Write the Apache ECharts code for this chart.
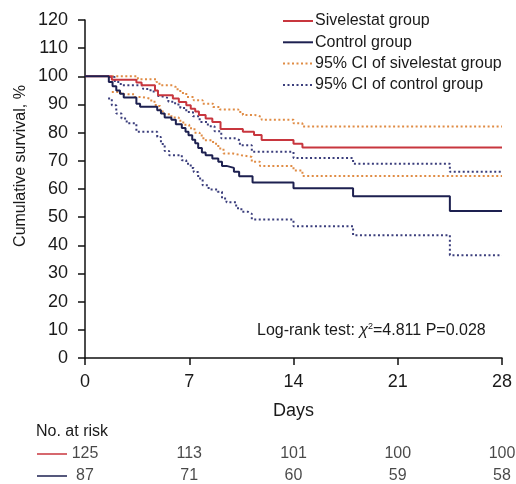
<!DOCTYPE html>
<html>
<head>
<meta charset="utf-8">
<script src="https://cdn.jsdelivr.net/npm/echarts@6/dist/echarts.min.js"></script>
<style>
  html, body { margin: 0; padding: 0; background: #fff; }
  #chart { width: 516px; height: 484px; }
</style>
</head>
<body>
<div id="chart"></div>
<script>
// Kaplan-Meier steps: [day, survival %] (value holds from that day on)
const sivelestat = [[0,100],[1.8,98.8],[3.45,97.8],[3.8,96.8],[4.7,95.0],[4.9,93.3],[5.9,92.1],[6.3,90.9],[6.8,89.7],[7.1,88.5],[7.4,87.5],[7.65,86.3],[8.1,85.0],[8.55,83.8],[9.1,81.3],[10.6,80.3],[11.35,79.2],[11.86,77.4],[14.0,76.1],[14.6,74.7],[28,74.7]];
const control = [[0,100],[1.6,98.0],[1.85,96.5],[2.1,95.0],[2.35,93.8],[2.6,92.5],[3.45,90.3],[3.7,89.2],[4.85,88.0],[5.1,86.8],[5.35,85.4],[5.8,84.6],[6.1,83.0],[6.5,81.7],[6.75,80.3],[6.95,79.1],[7.2,77.5],[7.4,76.2],[7.6,74.6],[7.85,73.0],[8.1,72.0],[8.55,70.8],[8.95,69.7],[9.2,68.2],[9.5,67.5],[10.0,66.1],[10.35,64.5],[11.25,62.3],[14.0,60.3],[18.0,57.4],[24.5,52.2],[28,52.2]];
const sivUpper = [[1.8,100],[3.55,99.0],[4.8,98.0],[5.0,96.8],[5.9,96.2],[6.1,95.4],[6.4,94.1],[6.8,92.7],[7.3,91.5],[7.9,90.3],[8.6,89.1],[9.05,88.2],[10.3,87.3],[10.6,86.3],[11.4,85.6],[11.86,84.6],[14.0,83.3],[14.6,82.2],[28,82.2]];
const sivLower = [[1.8,94.4],[2.4,93.6],[3.3,92.7],[3.8,92.0],[4.45,91.0],[4.75,89.5],[5.05,87.5],[5.3,86.5],[5.8,85.4],[6.3,84.2],[6.6,82.8],[7.0,81.6],[7.35,80.0],[7.7,79.0],[7.95,77.3],[8.6,76.1],[8.95,74.4],[9.3,72.6],[9.95,72.0],[10.5,71.4],[11.2,69.7],[11.75,68.2],[14.0,66.6],[14.6,64.6],[28,64.6]];
const ctlUpper = [[1.6,99.8],[2.0,98.0],[2.4,96.8],[3.9,95.5],[4.4,94.6],[4.9,93.0],[5.1,92.3],[5.6,91.0],[6.05,90.0],[6.4,88.8],[6.8,87.3],[7.25,85.8],[7.7,83.8],[8.25,82.3],[8.7,80.5],[9.15,78.0],[10.05,77.3],[10.4,75.5],[11.2,73.2],[14.0,71.0],[18.0,69.0],[24.5,66.1],[28,66.1]];
const ctlLower = [[1.55,92.1],[1.8,89.7],[2.1,86.8],[2.45,85.0],[2.8,83.3],[3.45,80.3],[4.85,78.5],[5.1,76.0],[5.35,73.5],[5.65,72.0],[6.5,70.2],[6.8,69.0],[7.1,67.5],[7.3,66.0],[7.6,63.7],[7.9,61.3],[8.3,59.8],[8.9,59.0],[9.2,56.6],[9.5,55.3],[10.15,53.2],[10.5,51.9],[10.95,51.2],[11.2,49.2],[14.0,46.8],[18.0,43.6],[24.5,36.5],[28,36.5]];

const riskDays = [0, 7, 14, 21, 28];
const riskSivelestat = [125, 113, 101, 100, 100];
const riskControl = [87, 71, 60, 59, 58];

const font = 'Liberation Sans, Arial, Helvetica, sans-serif';
const colRed = '#c8363e';
const colNavy = '#1d2050';
const colOrange = '#e08c45';
const colNavyDot = '#3b3e7c';
const txt = '#1a1a1a';

const chart = echarts.init(document.getElementById('chart'));

const stepLine = (name, data, color, dotted) => ({
    name: name,
    type: 'line',
    step: 'end',
    data: data,
    symbol: 'none',
    xAxisIndex: 0, yAxisIndex: 0,
    lineStyle: { color: color, width: 2, type: dotted ? [2, 2.5] : 'solid' },
    itemStyle: { color: color },
    animation: false,
    z: dotted ? 2 : 3
});

// risk table rows sit in their own thin grids, sharing the day scale
const riskRow = (idx, values) => ({
    type: 'scatter',
    xAxisIndex: idx, yAxisIndex: idx,
    data: riskDays.map((d, i) => [d, 0, values[i]]),
    symbolSize: 0,
    silent: true,
    animation: false,
    label: {
        show: true, position: 'inside', formatter: p => p.data[2],
        color: txt, fontSize: 16, fontFamily: font
    }
});

const hiddenAxis = (gi, type) => ({
    gridIndex: gi, type: 'value', min: type === 'x' ? 0 : -1, max: type === 'x' ? 28 : 1,
    show: false
});

chart.setOption({
    backgroundColor: '#fff',
    textStyle: { fontFamily: font },
    grid: [
        { left: 85, right: 14, top: 20, bottom: 126 },
        { left: 85, right: 14, top: 447, height: 14 },
        { left: 85, right: 14, top: 469, height: 14 }
    ],
    legend: {
        left: 282, top: 13, orient: 'vertical', padding: 0,
        itemWidth: 30, itemHeight: 14, itemGap: 5.3,
        itemStyle: { opacity: 0 },
        textStyle: { fontSize: 16, color: txt, fontFamily: font, padding: [0, 0, 0, -3] },
        data: ['Sivelestat group', 'Control group', '95% CI of sivelestat group', '95% CI of control group']
    },
    xAxis: [
        {
            gridIndex: 0, type: 'value', min: 0, max: 28, interval: 7,
            name: 'Days', nameLocation: 'middle', nameGap: 44,
            nameTextStyle: { fontSize: 18, color: txt, fontFamily: font },
            axisLine: { lineStyle: { color: '#111', width: 1.5 } },
            axisTick: { show: true, inside: false, length: 7, lineStyle: { color: '#111', width: 1.5 } },
            axisLabel: { fontSize: 18, color: txt, margin: 15, fontFamily: font },
            splitLine: { show: false }
        },
        hiddenAxis(1, 'x'),
        hiddenAxis(2, 'x')
    ],
    yAxis: [
        {
            gridIndex: 0, type: 'value', min: 0, max: 120, interval: 10,
            axisLine: { show: true, lineStyle: { color: '#111', width: 1.5 } },
            axisTick: { show: true, inside: false, length: 7, lineStyle: { color: '#111', width: 1.5 } },
            axisLabel: { fontSize: 18, color: txt, margin: 17, fontFamily: font },
            splitLine: { show: false }
        },
        hiddenAxis(1, 'y'),
        hiddenAxis(2, 'y')
    ],
    title: {
        text: 'Log-rank test: {g|χ}{s|2}=4.811 P=0.028',
        left: 252, top: 317,
        textStyle: {
            fontSize: 16, fontWeight: 'normal', color: txt, fontFamily: font,
            rich: {
                g: { fontSize: 16, fontStyle: 'italic', color: txt, fontFamily: font },
                s: { fontSize: 9, color: txt, verticalAlign: 'top', padding: [0, 0, 8, 0], fontFamily: font }
            }
        }
    },
    graphic: [
        {
            type: 'text', x: 21, y: 166, rotation: Math.PI / 2,
            style: { text: 'Cumulative survival, %', fontSize: 16, fill: txt, fontFamily: font, textAlign: 'center', textVerticalAlign: 'middle' }
        },
        { type: 'text', left: 36, top: 424, style: { text: 'No. at risk', fontSize: 16, fill: txt, fontFamily: font } },
        { type: 'line', shape: { x1: 37, y1: 454, x2: 67, y2: 454 }, style: { stroke: colRed, lineWidth: 1.5 } },
        { type: 'line', shape: { x1: 37, y1: 476, x2: 67, y2: 476 }, style: { stroke: colNavy, lineWidth: 1.5 } }
    ],
    series: [
        stepLine('Sivelestat group', sivelestat, colRed, false),
        stepLine('Control group', control, colNavy, false),
        stepLine('95% CI of sivelestat group', sivUpper, colOrange, true),
        stepLine('95% CI of sivelestat group', sivLower, colOrange, true),
        stepLine('95% CI of control group', ctlUpper, colNavyDot, true),
        stepLine('95% CI of control group', ctlLower, colNavyDot, true),
        riskRow(1, riskSivelestat),
        riskRow(2, riskControl)
    ]
});
</script>
</body>
</html>
